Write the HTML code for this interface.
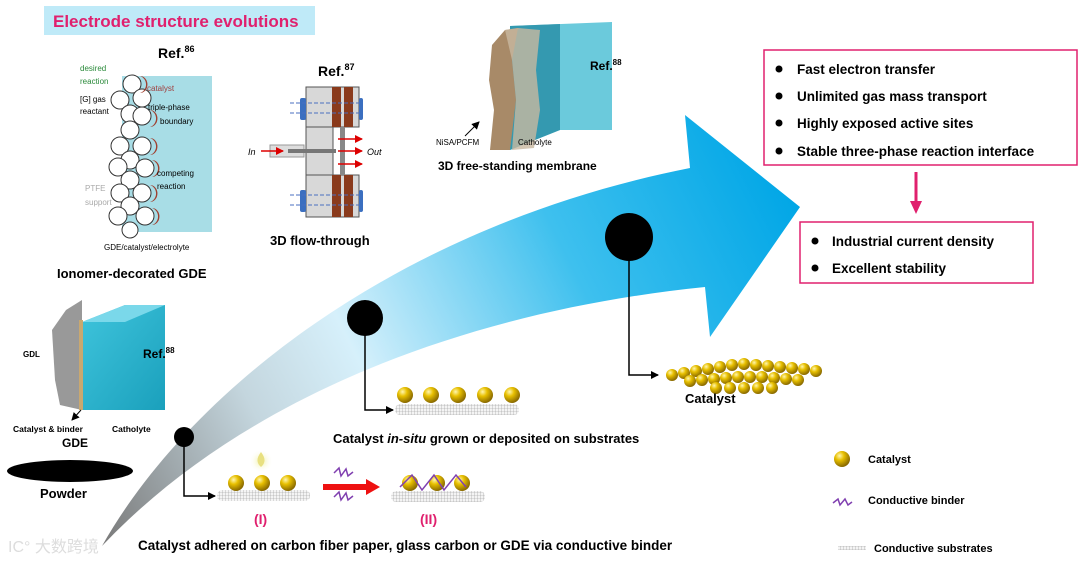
<!DOCTYPE html>
<html><head><meta charset="utf-8"><style>
html,body{margin:0;padding:0;background:#fff;}
svg text{font-family:"Liberation Sans",Arial,sans-serif;}
</style></head><body>
<svg width="1080" height="565" viewBox="0 0 1080 565" xmlns="http://www.w3.org/2000/svg">
<defs>
<linearGradient id="arr" x1="105" y1="548" x2="800" y2="200" gradientUnits="userSpaceOnUse">
<stop offset="0" stop-color="#7a7a7a"/>
<stop offset="0.25" stop-color="#c4d6de"/>
<stop offset="0.4" stop-color="#d6f0fb"/>
<stop offset="0.7" stop-color="#3ec0ee"/>
<stop offset="1" stop-color="#00a6e6"/>
</linearGradient>
<radialGradient id="gold" cx="0.35" cy="0.3" r="0.7">
<stop offset="0" stop-color="#fff6b0"/>
<stop offset="0.4" stop-color="#e8c000"/>
<stop offset="1" stop-color="#8a6a00"/>
</radialGradient>
<pattern id="grid" width="3" height="3" patternUnits="userSpaceOnUse">
<rect width="3" height="3" fill="#f4f4f4"/>
<path d="M0 0V3M0 0H3" stroke="#999" stroke-width="0.6"/>
</pattern>
<linearGradient id="cube" x1="0" y1="0" x2="1" y2="1">
<stop offset="0" stop-color="#3fc4dc"/><stop offset="1" stop-color="#1aa0bc"/>
</linearGradient>
<radialGradient id="drop" cx="0.5" cy="0.5" r="0.5">
<stop offset="0" stop-color="#f0f0a0"/><stop offset="1" stop-color="#fff" stop-opacity="0"/>
</radialGradient>
<marker id="ah" markerWidth="8" markerHeight="8" refX="7" refY="4" orient="auto" markerUnits="userSpaceOnUse"><path d="M0,0 L8,4 L0,8z" fill="#000"/></marker>
<marker id="rh" markerWidth="8" markerHeight="8" refX="7" refY="4" orient="auto" markerUnits="userSpaceOnUse"><path d="M0,0 L8,4 L0,8z" fill="#d00"/></marker>
</defs>

<!-- big arrow -->
<path d="M102,546 C190,390 400,225 690,168 L685,115 L800,207 L710,337 L705,287 C460,312 240,400 102,546 Z" fill="url(#arr)"/>

<!-- title -->
<rect x="44" y="6" width="271" height="29" fill="#bfeaf8"/>
<text x="53" y="27" font-size="17" font-weight="bold" fill="#e0206e">Electrode structure evolutions</text>

<!-- Ionomer GDE -->
<text x="158" y="58" font-size="14" font-weight="bold">Ref.<tspan font-size="9" dy="-6">86</tspan></text>
<rect x="122" y="76" width="90" height="156" fill="#a8dde6"/>
<g fill="#fff" stroke="#333" stroke-width="1">
<circle cx="132" cy="84" r="9"/><circle cx="142" cy="98" r="9"/><circle cx="120" cy="100" r="9"/><circle cx="130" cy="114" r="9"/>
<circle cx="142" cy="116" r="9"/><circle cx="130" cy="130" r="9"/><circle cx="120" cy="146" r="9"/><circle cx="142" cy="146" r="9"/>
<circle cx="130" cy="160" r="9"/><circle cx="118" cy="167" r="9"/><circle cx="145" cy="168" r="9"/><circle cx="130" cy="180" r="9"/>
<circle cx="120" cy="193" r="9"/><circle cx="142" cy="193" r="9"/><circle cx="130" cy="206" r="9"/><circle cx="118" cy="216" r="9"/><circle cx="145" cy="216" r="9"/><circle cx="130" cy="230" r="8"/>
</g>
<g fill="#a04030"><path d="M140,76 a9,9 0 0 1 0,17 a7,8 0 0 0 0,-17z"/><path d="M150,110 a9,9 0 0 1 0,17 a7,8 0 0 0 0,-17z"/><path d="M150,138 a9,9 0 0 1 0,17 a7,8 0 0 0 0,-17z"/><path d="M152,160 a9,9 0 0 1 0,17 a7,8 0 0 0 0,-17z"/><path d="M150,185 a9,9 0 0 1 0,17 a7,8 0 0 0 0,-17z"/><path d="M152,208 a9,9 0 0 1 0,17 a7,8 0 0 0 0,-17z"/></g>
<text x="80" y="71" font-size="8" fill="#2a8a3a">desired</text>
<text x="80" y="84" font-size="8" fill="#2a8a3a">reaction</text>
<text x="147" y="91" font-size="8" fill="#a04040">catalyst</text>
<text x="80" y="102" font-size="8">[G] gas</text>
<text x="80" y="114" font-size="8">reactant</text>
<text x="148" y="110" font-size="8">triple-phase</text>
<text x="160" y="124" font-size="8">boundary</text>
<text x="157" y="176" font-size="8">competing</text>
<text x="157" y="189" font-size="8">reaction</text>
<text x="85" y="191" font-size="8" fill="#aaa">PTFE</text>
<text x="85" y="205" font-size="8" fill="#aaa">support</text>
<text x="104" y="250" font-size="8">GDE/catalyst/electrolyte</text>
<text x="57" y="278" font-size="13" font-weight="bold">Ionomer-decorated GDE</text>

<!-- 3D flow-through -->
<text x="318" y="76" font-size="14" font-weight="bold">Ref.<tspan font-size="9" dy="-6">87</tspan></text>
<rect x="306" y="87" width="53" height="40" fill="#d8d8d8" stroke="#555"/>
<rect x="306" y="127" width="27" height="48" fill="#d8d8d8" stroke="#555"/>
<rect x="306" y="175" width="53" height="42" fill="#d8d8d8" stroke="#555"/>
<rect x="332" y="87" width="9" height="40" fill="#8a3a1c"/><rect x="344" y="87" width="9" height="40" fill="#8a3a1c"/>
<rect x="332" y="175" width="9" height="42" fill="#8a3a1c"/><rect x="344" y="175" width="9" height="42" fill="#8a3a1c"/>
<rect x="340" y="127" width="5" height="48" fill="#888"/>
<rect x="300" y="98" width="6" height="22" rx="2" fill="#3b6fc0"/><rect x="359" y="98" width="4" height="22" rx="2" fill="#3b6fc0"/>
<rect x="300" y="190" width="6" height="22" rx="2" fill="#3b6fc0"/><rect x="359" y="190" width="4" height="22" rx="2" fill="#3b6fc0"/>
<path d="M290 103H360M290 113H360M290 195H360M290 205H360" stroke="#4a6fc0" stroke-dasharray="4 2"/>
<rect x="270" y="145" width="34" height="12" fill="#ddd" stroke="#999"/>
<rect x="288" y="149" width="48" height="4" fill="#777"/>
<text x="248" y="155" font-size="9" font-style="italic">In</text>
<line x1="261" y1="151" x2="283" y2="151" stroke="#d00" stroke-width="1.5" marker-end="url(#rh)"/>
<line x1="338" y1="139" x2="362" y2="139" stroke="#d00" stroke-width="1.5" marker-end="url(#rh)"/>
<line x1="338" y1="151" x2="362" y2="151" stroke="#d00" stroke-width="1.5" marker-end="url(#rh)"/>
<line x1="338" y1="164" x2="362" y2="164" stroke="#d00" stroke-width="1.5" marker-end="url(#rh)"/>
<text x="367" y="155" font-size="9" font-style="italic">Out</text>
<text x="270" y="245" font-size="13" font-weight="bold">3D flow-through</text>

<!-- 3D free-standing membrane -->
<polygon points="510,26 612,22 612,130 560,130 510,150" fill="#5bc4d8" opacity="0.9"/>
<polygon points="510,26 560,24 560,130 510,150" fill="#2a90a8" opacity="0.85"/>
<polygon points="492,45 505,30 518,28 512,60 516,100 510,150 490,150 494,110 489,80" fill="#a88a68"/>
<polygon points="505,30 518,28 540,30 536,70 540,110 534,148 512,150 516,100 512,60" fill="#c8b8a0" opacity="0.8"/>
<text x="590" y="70" font-size="12" font-weight="bold">Ref.<tspan font-size="8" dy="-5">88</tspan></text>
<line x1="465" y1="136" x2="479" y2="122" stroke="#000" marker-end="url(#ah)"/>
<text x="436" y="145" font-size="8">NiSA/PCFM</text>
<text x="518" y="145" font-size="8">Catholyte</text>
<text x="438" y="170" font-size="12" font-weight="bold">3D free-standing membrane</text>

<!-- GDE cube -->
<polygon points="52,330 66,310 82,300 82,410 60,405 55,380" fill="#999"/>
<polygon points="82,322 125,305 165,305 165,410 82,410" fill="url(#cube)"/>
<polygon points="82,322 125,305 165,305 125,322" fill="#7ad8ea"/>
<rect x="79" y="320" width="4" height="90" fill="#c9a870"/>
<text x="23" y="357" font-size="8" font-weight="bold">GDL</text>
<text x="143" y="358" font-size="12" font-weight="bold">Ref.<tspan font-size="8" dy="-5">88</tspan></text>
<line x1="81" y1="410" x2="72" y2="420" stroke="#000" marker-end="url(#ah)"/>
<text x="13" y="432" font-size="8.5" font-weight="bold">Catalyst &amp; binder</text>
<text x="112" y="432" font-size="8.5" font-weight="bold">Catholyte</text>
<text x="62" y="447" font-size="12" font-weight="bold">GDE</text>
<ellipse cx="70" cy="471" rx="63" ry="11" fill="#000"/>
<text x="40" y="498" font-size="13" font-weight="bold">Powder</text>

<!-- step circles and connectors -->
<circle cx="184" cy="437" r="10" fill="#000"/>
<polyline points="184,437 184,496 215,496" fill="none" stroke="#000" stroke-width="1.5" marker-end="url(#ah)"/>
<circle cx="365" cy="318" r="18" fill="#000"/>
<polyline points="365,318 365,410 393,410" fill="none" stroke="#000" stroke-width="1.5" marker-end="url(#ah)"/>
<circle cx="629" cy="237" r="24" fill="#000"/>
<polyline points="629,237 629,375 658,375" fill="none" stroke="#000" stroke-width="1.5" marker-end="url(#ah)"/>

<!-- substrate I -->
<ellipse cx="261" cy="461" rx="12" ry="12" fill="url(#drop)"/>
<path d="M261,452 q-7,9 0,15 q7,-6 0,-15z" fill="#e8e080"/>
<rect x="217" y="490" width="93" height="11" rx="5" fill="url(#grid)"/>
<circle cx="236" cy="483" r="8" fill="url(#gold)"/><circle cx="262" cy="483" r="8" fill="url(#gold)"/><circle cx="288" cy="483" r="8" fill="url(#gold)"/>
<text x="254" y="524" font-size="14" font-weight="bold" fill="#e0206e">(I)</text>
<line x1="323" y1="487" x2="368" y2="487" stroke="#ee1111" stroke-width="6"/>
<polygon points="366,479 380,487 366,495" fill="#ee1111"/>
<path d="M334,473 l5,-5 l2,8 l5,-7 l2,7 l5,-4" stroke="#8040b0" fill="none" stroke-width="1.5"/>
<path d="M334,497 l5,-5 l2,8 l5,-7 l2,7 l5,-4" stroke="#8040b0" fill="none" stroke-width="1.5"/>
<rect x="391" y="491" width="94" height="11" rx="5" fill="url(#grid)"/>
<circle cx="410" cy="483" r="8" fill="url(#gold)"/><circle cx="437" cy="483" r="8" fill="url(#gold)"/><circle cx="462" cy="483" r="8" fill="url(#gold)"/>
<path d="M400,487 l12,-12 l10,15 l12,-15 l10,15 l12,-15 l10,12" stroke="#8040b0" fill="none" stroke-width="1.5"/>
<text x="420" y="524" font-size="14" font-weight="bold" fill="#e0206e">(II)</text>

<!-- substrate in-situ -->
<rect x="395" y="404" width="124" height="11" rx="5" fill="url(#grid)"/>
<circle cx="405" cy="395" r="8" fill="url(#gold)"/><circle cx="431" cy="395" r="8" fill="url(#gold)"/><circle cx="458" cy="395" r="8" fill="url(#gold)"/><circle cx="485" cy="395" r="8" fill="url(#gold)"/><circle cx="512" cy="395" r="8" fill="url(#gold)"/>
<text x="333" y="443" font-size="13" font-weight="bold">Catalyst <tspan font-style="italic">in-situ</tspan> grown or deposited on substrates</text>

<!-- catalyst cluster -->
<g>
<circle cx="672" cy="375" r="6" fill="url(#gold)"/><circle cx="684" cy="373" r="6" fill="url(#gold)"/><circle cx="696" cy="371" r="6" fill="url(#gold)"/><circle cx="708" cy="369" r="6" fill="url(#gold)"/><circle cx="720" cy="367" r="6" fill="url(#gold)"/><circle cx="732" cy="365" r="6" fill="url(#gold)"/><circle cx="744" cy="364" r="6" fill="url(#gold)"/><circle cx="756" cy="365" r="6" fill="url(#gold)"/><circle cx="768" cy="366" r="6" fill="url(#gold)"/><circle cx="780" cy="367" r="6" fill="url(#gold)"/><circle cx="792" cy="368" r="6" fill="url(#gold)"/><circle cx="804" cy="369" r="6" fill="url(#gold)"/><circle cx="816" cy="371" r="6" fill="url(#gold)"/>
<circle cx="690" cy="381" r="6" fill="url(#gold)"/><circle cx="702" cy="380" r="6" fill="url(#gold)"/><circle cx="714" cy="379" r="6" fill="url(#gold)"/><circle cx="726" cy="378" r="6" fill="url(#gold)"/><circle cx="738" cy="377" r="6" fill="url(#gold)"/><circle cx="750" cy="377" r="6" fill="url(#gold)"/><circle cx="762" cy="377" r="6" fill="url(#gold)"/><circle cx="774" cy="378" r="6" fill="url(#gold)"/><circle cx="786" cy="379" r="6" fill="url(#gold)"/><circle cx="798" cy="380" r="6" fill="url(#gold)"/>
<circle cx="716" cy="388" r="6" fill="url(#gold)"/><circle cx="730" cy="388" r="6" fill="url(#gold)"/><circle cx="744" cy="388" r="6" fill="url(#gold)"/><circle cx="758" cy="388" r="6" fill="url(#gold)"/><circle cx="772" cy="388" r="6" fill="url(#gold)"/>
</g>
<text x="685" y="403" font-size="13" font-weight="bold">Catalyst</text>

<!-- pink boxes -->
<rect x="764" y="50" width="313" height="115" fill="#fff" stroke="#e0206e" stroke-width="1.5"/>
<g font-size="13.5" font-weight="bold">
<circle cx="779" cy="69" r="3.5"/><text x="797" y="74">Fast electron transfer</text>
<circle cx="779" cy="96" r="3.5"/><text x="797" y="101">Unlimited gas mass transport</text>
<circle cx="779" cy="123" r="3.5"/><text x="797" y="128">Highly  exposed active sites</text>
<circle cx="779" cy="151" r="3.5"/><text x="797" y="156">Stable three-phase reaction interface</text>
</g>
<line x1="916" y1="172" x2="916" y2="203" stroke="#e0206e" stroke-width="3"/>
<polygon points="910,201 922,201 916,214" fill="#e0206e"/>
<rect x="800" y="222" width="233" height="61" fill="#fff" stroke="#e0206e" stroke-width="1.5"/>
<g font-size="13.5" font-weight="bold">
<circle cx="815" cy="241" r="3.5"/><text x="832" y="246">Industrial current density</text>
<circle cx="815" cy="268" r="3.5"/><text x="832" y="273">Excellent stability</text>
</g>

<!-- legend -->
<circle cx="842" cy="459" r="8" fill="url(#gold)"/>
<text x="868" y="463" font-size="11" font-weight="bold">Catalyst</text>
<path d="M833,503 l5,-4 l2,6 l5,-6 l3,6 l4,-3" stroke="#8040b0" fill="none" stroke-width="1.5"/>
<text x="868" y="504" font-size="11" font-weight="bold">Conductive binder</text>
<rect x="838" y="546" width="28" height="4" fill="url(#grid)"/>
<text x="874" y="552" font-size="11" font-weight="bold">Conductive substrates</text>

<!-- bottom text -->
<text x="8" y="552" font-size="16" fill="#ddd" font-family="Liberation Sans,'Noto Sans CJK SC',sans-serif">IC° 大数跨境</text>
<text x="138" y="550" font-size="13.5" font-weight="bold">Catalyst  adhered on carbon fiber paper, glass carbon or GDE via conductive binder</text>
</svg>
</body></html>
